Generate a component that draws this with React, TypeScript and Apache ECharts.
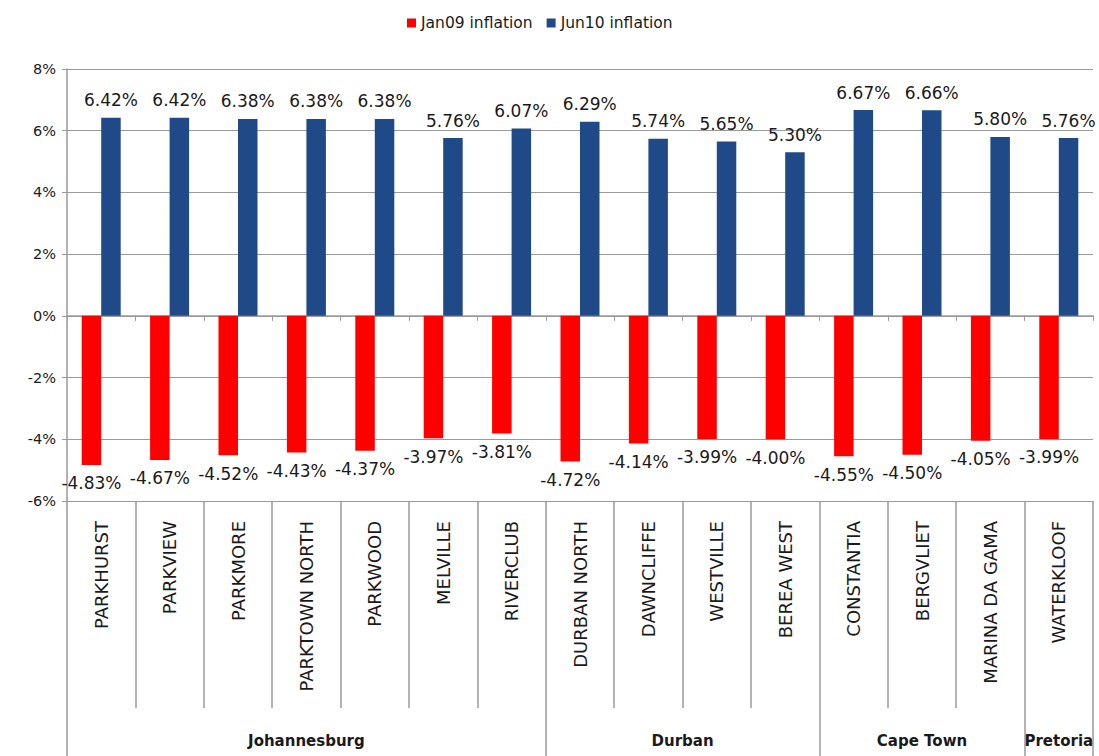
import React, { useEffect, useRef } from "react";
import * as echarts from "echarts";

const cities = [
  "PARKHURST", "PARKVIEW", "PARKMORE", "PARKTOWN NORTH", "PARKWOOD", "MELVILLE", "RIVERCLUB",
  "DURBAN NORTH", "DAWNCLIFFE", "WESTVILLE", "BEREA WEST",
  "CONSTANTIA", "BERGVLIET", "MARINA DA GAMA",
  "WATERKLOOF",
];
const jan09 = [-4.83, -4.67, -4.52, -4.43, -4.37, -3.97, -3.81, -4.72, -4.14, -3.99, -4.0, -4.55, -4.5, -4.05, -3.99];
const jun10 = [6.42, 6.42, 6.38, 6.38, 6.38, 5.76, 6.07, 6.29, 5.74, 5.65, 5.3, 6.67, 6.66, 5.8, 5.76];
const groups = ["Johannesburg", "Durban", "Cape Town", "Pretoria"];
const groupSizes = [7, 4, 3, 1];
const yTicks = [-6, -4, -2, 0, 2, 4, 6, 8];

const FONT = "DejaVu Sans";
const TEXT = "#1a1a1a";
const LINE = "#9a9a9a";

export default function App() {
  const ref = useRef<HTMLDivElement>(null);
  useEffect(() => {
    if (!ref.current) return;
    const chart = echarts.init(ref.current, undefined, { renderer: "svg" });

    const bounds: number[] = [0];
    const centers: number[] = [];
    const centerName = new Map<number, string>();
    let acc = 0;
    groupSizes.forEach((s, i) => {
      const c = acc + s / 2;
      centers.push(c);
      centerName.set(c, groups[i]);
      acc += s;
      bounds.push(acc);
    });

    chart.setOption({
      animation: false,
      legend: {
        top: 10,
        left: 402,
        itemWidth: 9,
        itemHeight: 9,
        itemGap: 14,
        icon: "rect",
        textStyle: { fontFamily: FONT, fontSize: 15.5, color: TEXT },
        data: ["Jan09 inflation", "Jun10 inflation"],
      },
      grid: { left: 67, right: 6, top: 69, bottom: 255, containLabel: false },
      yAxis: {
        type: "value",
        min: yTicks[0],
        max: yTicks[yTicks.length - 1],
        interval: 2,
        axisLine: { show: true, lineStyle: { color: LINE, width: 1.5 } },
        axisTick: { show: true, length: 5, lineStyle: { color: LINE } },
        splitLine: { show: true, lineStyle: { color: LINE, width: 1.2 } },
        axisLabel: {
          formatter: (v: number) => `${v}%`,
          fontFamily: FONT,
          fontSize: 14.5,
          color: TEXT,
          margin: 11,
        },
      },
      xAxis: [
        {
          type: "category",
          data: cities,
          position: "bottom",
          axisLine: { onZero: true, lineStyle: { color: LINE, width: 1.5 } },
          axisTick: { show: true, interval: 0, length: 5, lineStyle: { color: LINE } },
          axisLabel: { show: false },
        },
        {
          type: "category",
          data: cities,
          position: "bottom",
          axisLine: { show: true, onZero: false, lineStyle: { color: LINE, width: 1.2 } },
          axisTick: { show: true, interval: 0, length: 207, lineStyle: { color: LINE, width: 1.5 } },
          axisLabel: {
            interval: 0,
            rotate: 90,
            margin: 20,
            fontFamily: FONT,
            fontSize: 18,
            color: TEXT,
          },
        },
        {
          type: "value",
          min: 0,
          max: cities.length,
          position: "bottom",
          offset: 207,
          axisLine: { show: false, onZero: false },
          splitLine: { show: false },
          axisTick: { show: true, customValues: bounds, length: 50, lineStyle: { color: LINE, width: 1.5 } },
          axisLabel: {
            customValues: centers,
            formatter: (v: number) => centerName.get(v) ?? "",
            margin: 25,
            fontFamily: FONT,
            fontWeight: "bold",
            fontSize: 15,
            color: TEXT,
          },
        },
      ],
      series: [
        {
          name: "Jan09 inflation",
          type: "bar",
          xAxisIndex: 0,
          data: jan09,
          barWidth: 19.5,
          barGap: "0%",
          itemStyle: { color: "#ff0000" },
          label: {
            show: true,
            position: "bottom",
            distance: 10,
            formatter: (p: any) => `${p.value.toFixed(2)}%`,
            fontFamily: FONT,
            fontSize: 17,
            color: TEXT,
          },
        },
        {
          name: "Jun10 inflation",
          type: "bar",
          xAxisIndex: 0,
          data: jun10,
          barWidth: 19.5,
          barGap: "0%",
          itemStyle: { color: "#1f4a87" },
          label: {
            show: true,
            position: "top",
            distance: 9,
            formatter: (p: any) => `${p.value.toFixed(2)}%`,
            fontFamily: FONT,
            fontSize: 17,
            color: TEXT,
          },
        },
      ],
    });
    return () => chart.dispose();
  }, []);
  return (
    <div
      ref={ref}
      style={{ position: "fixed", left: 0, top: 0, width: 1099, height: 756, background: "#fff" }}
    />
  );
}
